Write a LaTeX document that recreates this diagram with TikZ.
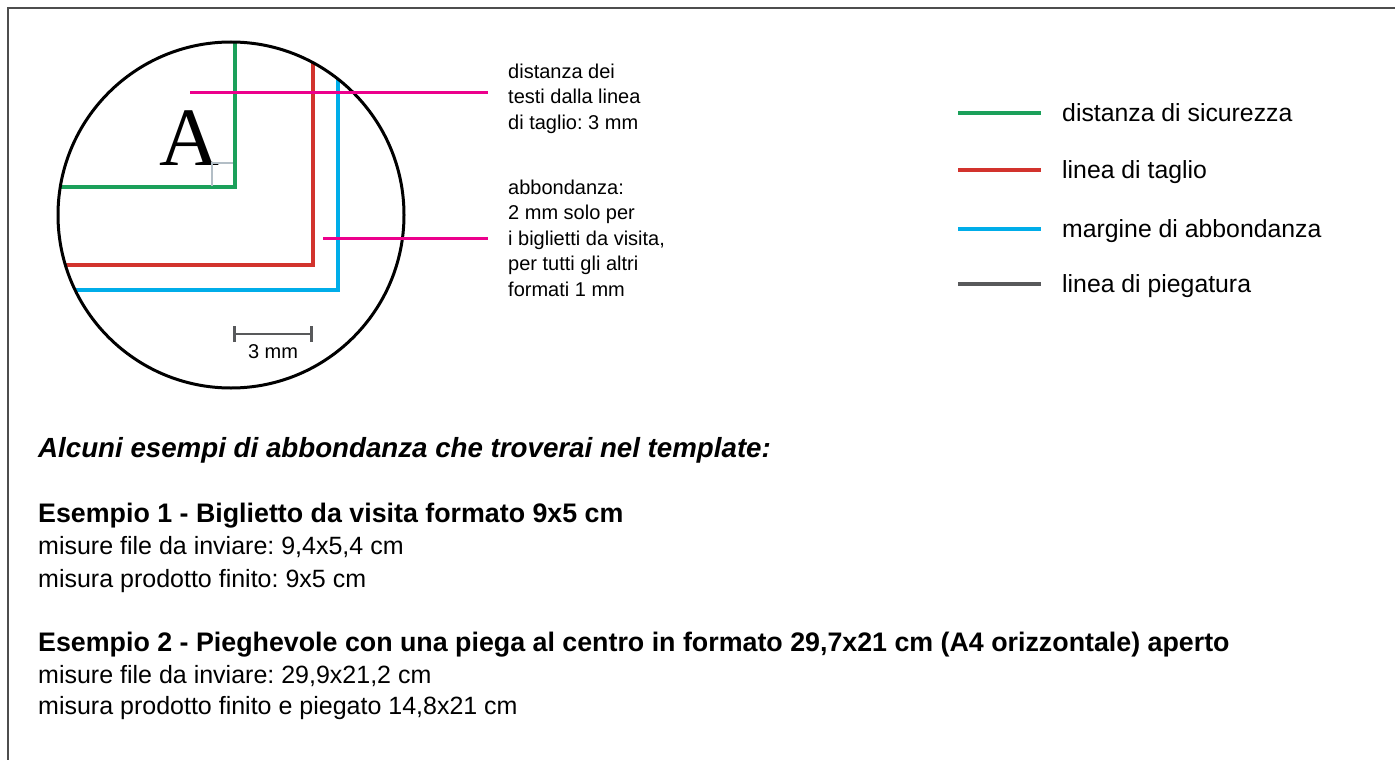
\documentclass[tikz,border=0pt]{standalone}
\usepackage{fontspec}
\setmainfont{Liberation Sans}
\newfontfamily\serifgrande{Liberation Serif}
\usetikzlibrary{arrows.meta}
\frenchspacing

\definecolor{sicurezza}{HTML}{1BA05A}
\definecolor{taglio}{HTML}{D2332D}
\definecolor{abbondanza}{HTML}{00ADE9}
\definecolor{piega}{HTML}{58595B}
\definecolor{rosa}{HTML}{EC008C}
\definecolor{cornice}{HTML}{4D4D4D}
\definecolor{angolo}{HTML}{B3BEC6}

\tikzset{
  guida/.style={line width=3.2pt},
  richiamo/.style={rosa, line width=3pt},
  nota/.style={anchor=north west, inner sep=0pt, align=left,
    font=\fontsize{20}{25.5}\selectfont},
  voce/.style={anchor=base west, inner sep=0pt, font=\fontsize{24.8}{30}\selectfont},
  testo/.style={anchor=base west, inner sep=0pt, font=\fontsize{25}{30}\selectfont},
  titolo/.style={anchor=base west, inner sep=0pt, font=\fontsize{26.8}{30}\selectfont\bfseries},
}

\begin{document}
\begin{tikzpicture}[x=1pt, y=-1pt]
\useasboundingbox (0,0) rectangle (1395,760);

% cornice
\draw [cornice, line width=2.2pt] (8,760) -- (8,8) -- (1395,8);

% lente
\coordinate (c) at (231,215);
\begin{scope}
    \clip (c) circle (173);
    \draw [guida, sicurezza] (0,187) -- (235,187) -- (235,0);
    \draw [guida, taglio] (0,265) -- (313,265) -- (313,0);
    \draw [guida, abbondanza] (0,290) -- (338,290) -- (338,0);
\end{scope}
\draw [line width=3pt] (c) circle (173);

\node [anchor=base, inner sep=0pt, font=\fontsize{83}{83}\serifgrande] (lettera) at (189,165) {A};
\draw [angolo, line width=2.6pt] (212,186) -- (212,163) -- (233,163);

% scala
\coordinate (s1) at (233,334);
\coordinate (s2) at (313,334);
\draw [piega, line width=2.8pt, {Bar[width=16pt]}-{Bar[width=16pt]}] (s1) -- (s2);
\node [anchor=base, inner sep=0pt, font=\fontsize{20}{24}\selectfont] (scala) at (273,358) {3 mm};

% richiami
\node [nota] (distanza) at (508,63.5) {distanza dei\\testi dalla linea\\di taglio: 3 mm};
\node [nota] (abbond) at (508,179.5) {abbondanza:\\2 mm solo per\\i biglietti da visita,\\per tutti gli altri\\formati 1 mm};
\coordinate (r1) at (190,92);
\coordinate (r1e) at (488,92);
\coordinate (r2) at (323,238);
\coordinate (r2e) at (488,238);
\draw [richiamo] (r1) -- (r1e);
\draw [richiamo] (r2) -- (r2e);

% legenda
\foreach \y/\col/\txt in {113/sicurezza/distanza di sicurezza,
                          170/taglio/linea di taglio,
                          229/abbondanza/margine di abbondanza,
                          284/piega/linea di piegatura} {
    \draw [guida, \col] (958,\y) -- (1041,\y);
    \node [voce] (voce\y) at (1062,\y+8.5) {\txt};
}

% esempi
\node [anchor=base west, inner sep=0pt, font=\fontsize{27.7}{30}\selectfont\bfseries\itshape] (intro) at (38,457)
    {Alcuni esempi di abbondanza che troverai nel template:};
\node [titolo] (es1) at (38,522) {Esempio 1 - Biglietto da visita formato 9x5 cm};
\node [testo] (es1a) at (38,554) {misure file da inviare: 9,4x5,4 cm};
\node [testo] (es1b) at (38,587) {misura prodotto finito: 9x5 cm};
\node [titolo] (es2) at (38,651) {Esempio 2 - Pieghevole con una piega al centro in formato 29,7x21 cm (A4 orizzontale) aperto};
\node [testo] (es2a) at (38,683) {misure file da inviare: 29,9x21,2 cm};
\node [testo] (es2b) at (38,714) {misura prodotto finito e piegato 14,8x21 cm};
\end{tikzpicture}
\end{document}
